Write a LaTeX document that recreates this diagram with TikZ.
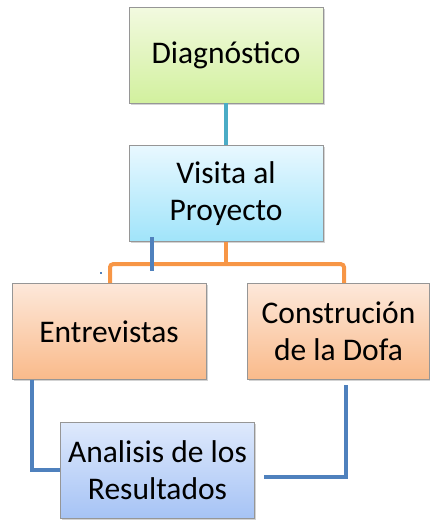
\documentclass[tikz,border=0pt]{standalone}
\usepackage{fontspec}
\setmainfont{Carlito}
\usepackage{xcolor}
\usepackage{tikz}
\usetikzlibrary{positioning, shadows}
\definecolor{flowteal}{RGB}{75, 172, 198}
\definecolor{floworange}{RGB}{247, 150, 70}
\definecolor{flowblue}{RGB}{79, 129, 189}
\definecolor{flowedge}{RGB}{150, 150, 150}
\definecolor{flowgreentop}{RGB}{242, 250, 224}
\definecolor{flowgreenbot}{RGB}{210, 240, 158}
\definecolor{flowcyantop}{RGB}{232, 248, 255}
\definecolor{flowcyanbot}{RGB}{160, 228, 250}
\definecolor{floworangetop}{RGB}{253, 232, 218}
\definecolor{floworangebot}{RGB}{249, 186, 138}
\definecolor{flowbluetop}{RGB}{222, 233, 252}
\definecolor{flowbluebot}{RGB}{166, 195, 245}

\begin{document}
\begin{tikzpicture}[
        node distance=42pt,
        box/.style={draw=flowedge, line width=0.8pt, minimum width=194pt, minimum height=96pt, align=center,
            font=\fontsize{31.5}{37}\selectfont,
            drop shadow={shadow xshift=1.5pt, shadow yshift=-1.5pt, opacity=0.35}},
        link/.style={line width=4pt}
    ]
        \useasboundingbox (0,0) rectangle (430pt,-523pt);

        % Top
        \node[box, top color=flowgreentop, bottom color=flowgreenbot] (diag) at (226pt,-55pt) {Diagnóstico};

        % Visit
        \node[box, top color=flowcyantop, bottom color=flowcyanbot, below=of diag] (visita) {Visita al\\Proyecto};

        % Branches
        \node[box, top color=floworangetop, bottom color=floworangebot, below=41pt of visita, xshift=-117pt] (entrevistas) {Entrevistas};
        \node[box, top color=floworangetop, bottom color=floworangebot, below=41pt of visita, xshift=112.5pt, minimum width=182pt] (dofa) {Construción\\de la Dofa};

        % Result
        \node[box, top color=flowbluetop, bottom color=flowbluebot, below=of entrevistas, xshift=48.5pt] (analisis) {Analisis de los\\Resultados};

        % Lines
        \draw[link, flowteal] (diag) -- (visita);

        \coordinate (bus) at ([yshift=-22pt]visita.south);
        \draw[link, floworange] (visita.south) -- (bus);
        \draw[link, floworange, rounded corners=3pt] ([xshift=1pt]entrevistas.north) |- (bus) -| ([xshift=5.5pt]dofa.north);

        \coordinate (stub) at ([xshift=-74pt, yshift=-29pt]visita.south);
        \draw[line width=3.5pt, flowblue] ([xshift=-74pt, yshift=5pt]visita.south) -- (stub);
        \fill[flowblue] ([xshift=88pt, yshift=11pt]entrevistas.north west) rectangle ++(2pt,-2pt);

        \draw[link, flowblue] ([xshift=20pt]entrevistas.south west) |- (analisis.west);

        \coordinate (dofaend) at ([xshift=9pt, yshift=-7pt]analisis.east);
        \draw[link, flowblue] ([xshift=7.5pt, yshift=-5pt]dofa.south) |- (dofaend);
    \end{tikzpicture}
\end{document}
